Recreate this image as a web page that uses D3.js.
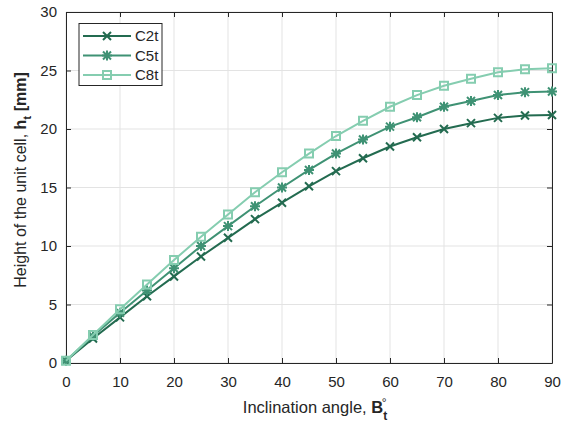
<!DOCTYPE html>
<html><head><meta charset="utf-8">
<script src="https://cdn.jsdelivr.net/npm/d3@7"></script>
<style>body{margin:0;background:#fff;} text{font-family:Arial,"Liberation Sans",sans-serif;}</style>
</head><body>
<svg id="chart" width="569" height="423"></svg>
<script>
const angles = [0,5,10,15,20,25,30,35,40,45,50,55,60,65,70,75,80,85,90];
const c2t = [0.2,2.1,3.9,5.7,7.4,9.1,10.7,12.3,13.7,15.1,16.4,17.5,18.5,19.3,20.0,20.5,20.95,21.15,21.2];
const c5t = [0.2,2.3,4.3,6.2,8.1,10.0,11.7,13.4,15.0,16.5,17.9,19.1,20.2,21.0,21.9,22.4,22.9,23.15,23.2];
const c8t = [0.2,2.4,4.6,6.7,8.8,10.8,12.7,14.6,16.3,17.9,19.4,20.7,21.9,22.9,23.7,24.3,24.85,25.1,25.2];
const seriesNames = ["C2t","C5t","C8t"];
const seriesColors = ["#236b50","#3f9274","#85cdb0"];
const seriesMarkers = ["x","star","square"];
const xTicks = [0,10,20,30,40,50,60,70,80,90];
const yTicks = [0,5,10,15,20,25,30];

const svg = d3.select("#chart");
const L=66,R=552,T=12,B=363;
const x = d3.scaleLinear().domain([0,90]).range([L,R]);
const y = d3.scaleLinear().domain([0,30]).range([B,T]);
const axisColor="#262626";

// grid
svg.append("g").selectAll("line").data(xTicks).join("line")
 .attr("x1",d=>x(d)).attr("x2",d=>x(d)).attr("y1",T).attr("y2",B)
 .attr("stroke","#e3e3e3").attr("stroke-width",1);
svg.append("g").selectAll("line").data(yTicks).join("line")
 .attr("y1",d=>y(d)).attr("y2",d=>y(d)).attr("x1",L).attr("x2",R)
 .attr("stroke","#e3e3e3").attr("stroke-width",1);

// axes
const fs=15;
const gx=svg.append("g").attr("transform",`translate(0,${B})`)
 .call(d3.axisBottom(x).tickValues(xTicks).tickSizeInner(-5).tickSizeOuter(0).tickPadding(13));
const gy=svg.append("g").attr("transform",`translate(${L},0)`)
 .call(d3.axisLeft(y).tickValues(yTicks).tickSizeInner(-5).tickSizeOuter(0).tickPadding(9));
const gxt=svg.append("g").attr("transform",`translate(0,${T})`)
 .call(d3.axisTop(x).tickValues(xTicks).tickSizeInner(-5).tickSizeOuter(0).tickFormat(""));
const gyr=svg.append("g").attr("transform",`translate(${R},0)`)
 .call(d3.axisRight(y).tickValues(yTicks).tickSizeInner(-5).tickSizeOuter(0).tickFormat(""));
[gx,gy,gxt,gyr].forEach(g=>{
  g.selectAll("path.domain").attr("stroke",axisColor).attr("stroke-width",1);
  g.selectAll("line").attr("stroke",axisColor);
  g.selectAll("text").attr("fill","#262626").style("font-size",fs+"px").style("font-family","Arial, 'Liberation Sans', sans-serif");
});

function markerPath(type){
  const s=4;
  if(type==="x") return `M${-s},${-s}L${s},${s}M${-s},${s}L${s},${-s}`;
  if(type==="star") return `M${-s},${-s}L${s},${s}M${-s},${s}L${s},${-s}M0,${-s-1}L0,${s+1}M${-s-1},0L${s+1},0`;
  return `M${-s},${-s}H${s}V${s}H${-s}Z`;
}

const allSeries=[c2t,c5t,c8t];
const line=d3.line().x((d,i)=>x(angles[i])).y(d=>y(d));
allSeries.forEach((vals,k)=>{
  const g=svg.append("g");
  g.append("path").datum(vals).attr("d",line).attr("fill","none")
   .attr("stroke",seriesColors[k]).attr("stroke-width",2);
  g.selectAll("path.m").data(vals).join("path").attr("class","m")
   .attr("transform",(d,i)=>`translate(${x(angles[i])},${y(d)})`)
   .attr("d",markerPath(seriesMarkers[k])).attr("fill","none")
   .attr("stroke",seriesColors[k]).attr("stroke-width",2);
});

// legend
const lg=svg.append("g");
lg.append("rect").attr("x",79).attr("y",23.5).attr("width",83).attr("height",62)
 .attr("fill","#fff").attr("stroke","#262626").attr("stroke-width",1);
seriesNames.forEach((n,k)=>{
  const yy=36+k*19.5;
  lg.append("line").attr("x1",83).attr("x2",131).attr("y1",yy).attr("y2",yy)
   .attr("stroke",seriesColors[k]).attr("stroke-width",2);
  lg.append("path").attr("transform",`translate(107,${yy})`).attr("d",markerPath(seriesMarkers[k]))
   .attr("fill","none").attr("stroke",seriesColors[k]).attr("stroke-width",2);
  lg.append("text").attr("x",135).attr("y",yy+5).text(n).attr("fill","#262626").style("font-size",fs+"px");
});

// x label
const xl=svg.append("text").attr("x",(L+R)/2+6).attr("y",413).attr("text-anchor","middle")
 .attr("fill","#262626").style("font-size","16.5px");
xl.append("tspan").text("Inclination angle, ");
xl.append("tspan").text("B").style("font-weight","bold");
const tsub=xl.append("tspan").text("t").style("font-weight","bold").style("font-size","12px").attr("dy",7);
const bb=tsub.node().getBBox ? xl.node().getBBox() : null;
const xEnd = bb ? bb.x+bb.width : 385;
svg.append("text").attr("x",xEnd-3).attr("y",407).attr("text-anchor","middle")
 .attr("fill","#262626").style("font-size","12px").text("°");

// y label
const yl=svg.append("text").attr("transform",`translate(26,180) rotate(-90)`).attr("text-anchor","middle")
 .attr("fill","#262626").style("font-size","16px");
yl.append("tspan").text("Height of the unit cell, ");
yl.append("tspan").text("h").style("font-weight","bold");
yl.append("tspan").text("t").style("font-weight","bold").style("font-size","11.5px").attr("dy",5);
yl.append("tspan").text(" [mm]").style("font-weight","bold").attr("dy",-5);
</script>
</body></html>
